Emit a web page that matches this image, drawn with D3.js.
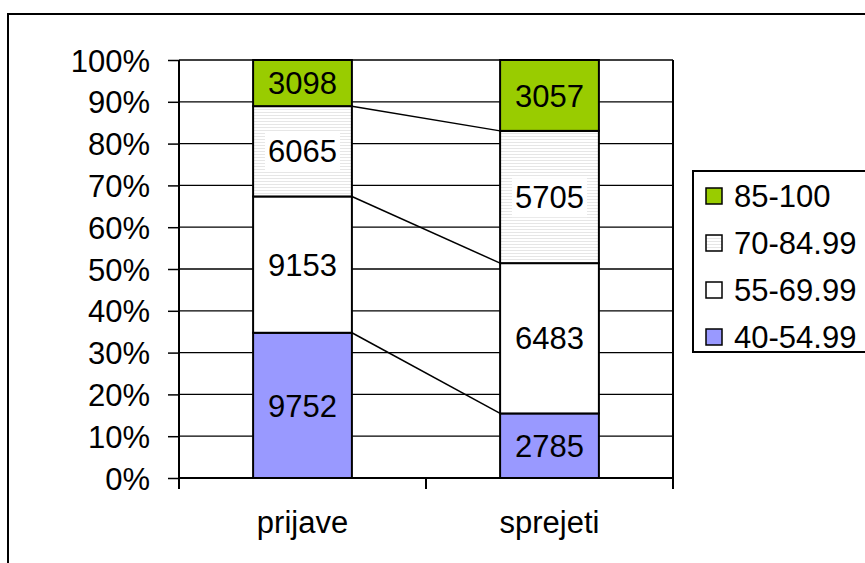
<!DOCTYPE html>
<html>
<head>
<meta charset="utf-8">
<script src="https://cdn.jsdelivr.net/npm/d3@7"></script>
<style>
  html, body { margin: 0; padding: 0; background: #fff; }
  svg { display: block; font-family: "Liberation Sans", Arial, sans-serif; }
</style>
</head>
<body>
<svg id="chart" width="865" height="563"></svg>
<script>
const categories = ["prijave", "sprejeti"];
const seriesNames = ["40-54.99", "55-69.99", "70-84.99", "85-100"];
const values_40_54 = [9752, 2785];
const values_55_69 = [9153, 6483];
const values_70_84 = [6065, 5705];
const values_85_100 = [3098, 3057];
const seriesColors = ["#9999ff", "#ffffff", "url(#pat)", "#99cc00"];
const legendColors = ["#9999ff", "#ffffff", "url(#patL)", "#99cc00"];
const yTicks = [0, 0.1, 0.2, 0.3, 0.4, 0.5, 0.6, 0.7, 0.8, 0.9, 1.0];

(function () {
const svg = d3.select("#chart");
const defs = svg.append("defs");
function makePattern(id) {
  const p = defs.append("pattern").attr("id", id).attr("patternUnits", "userSpaceOnUse")
    .attr("width", 6).attr("height", 3);
  p.append("rect").attr("width", 6).attr("height", 3).attr("fill", "#ffffff");
  p.append("rect").attr("y", 1).attr("width", 6).attr("height", 1).attr("fill", "#e6e6e6");
}
makePattern("pat");
makePattern("patL");

const FONT = 31;

// outer border
svg.append("rect").attr("x", 8).attr("y", 14).attr("width", 900).attr("height", 600)
  .attr("fill", "none").attr("stroke", "#000").attr("stroke-width", 2);

const pLeft = 179, pRight = 673, pTop = 60, pBottom = 478;
const x = d3.scaleBand().domain(categories).range([pLeft, pRight]).paddingInner(0.6).paddingOuter(0.3);
const y = d3.scaleLinear().domain([0, 1]).range([pBottom, pTop]);

const table = categories.map((c, i) => {
  const row = { cat: c };
  row[seriesNames[0]] = values_40_54[i];
  row[seriesNames[1]] = values_55_69[i];
  row[seriesNames[2]] = values_70_84[i];
  row[seriesNames[3]] = values_85_100[i];
  return row;
});
const stack = d3.stack().keys(seriesNames).offset(d3.stackOffsetExpand);
const stacked = stack(table);

// gridlines
svg.append("g").selectAll("line").data(yTicks.slice(1)).join("line")
  .attr("x1", pLeft).attr("x2", pRight)
  .attr("y1", d => y(d)).attr("y2", d => y(d))
  .attr("stroke", "#000").attr("stroke-width", 1.3);
// right plot edge
svg.append("line").attr("x1", pRight).attr("x2", pRight).attr("y1", pTop).attr("y2", pBottom)
  .attr("stroke", "#000").attr("stroke-width", 2);

// y axis
const yAxis = d3.axisLeft(y).tickValues(yTicks).tickFormat(d3.format(".0%")).tickSize(11).tickPadding(18);
const gy = svg.append("g").attr("transform", `translate(${pLeft},0)`).call(yAxis);
gy.select(".domain").attr("stroke", "#000").attr("stroke-width", 2).attr("d", `M0,${pTop}V${pBottom}`);
gy.selectAll(".tick line").attr("stroke", "#000").attr("stroke-width", 1.5);
gy.selectAll(".tick text").attr("font-size", FONT).attr("font-family", "Liberation Sans, Arial, sans-serif").attr("fill", "#000").attr("dy", "0.36em");

// x axis
const boundaries = [pLeft, pLeft + x.step(), pRight];
const gx = svg.append("g");
gx.append("line").attr("x1", pLeft).attr("x2", pRight).attr("y1", pBottom).attr("y2", pBottom)
  .attr("stroke", "#000").attr("stroke-width", 2);
gx.selectAll("line.t").data(boundaries).join("line").attr("class", "t")
  .attr("x1", d => d).attr("x2", d => d).attr("y1", pBottom).attr("y2", pBottom + 11)
  .attr("stroke", "#000").attr("stroke-width", 2);
gx.selectAll("text").data(categories).join("text")
  .attr("x", d => x(d) + x.bandwidth() / 2).attr("y", 533)
  .attr("text-anchor", "middle").attr("font-size", FONT).text(d => d);

// bars
const gb = svg.append("g");
stacked.forEach((s, si) => {
  gb.selectAll(null).data(s).join("rect")
    .attr("x", d => x(d.data.cat)).attr("width", x.bandwidth())
    .attr("y", d => y(d[1])).attr("height", d => y(d[0]) - y(d[1]))
    .attr("fill", seriesColors[si]).attr("stroke", "#000").attr("stroke-width", 2);
});

// connector lines
const c0 = categories[0], c1 = categories[1];
stacked.slice(0, 3).forEach(s => {
  svg.append("line")
    .attr("x1", x(c0) + x.bandwidth()).attr("y1", y(s[0][1]))
    .attr("x2", x(c1)).attr("y2", y(s[1][1]))
    .attr("stroke", "#000").attr("stroke-width", 1.5);
});

// labels
stacked.forEach((s, si) => {
  s.forEach(d => {
    const cx = x(d.data.cat) + x.bandwidth() / 2;
    const cy = (y(d[0]) + y(d[1])) / 2;
    const g = svg.append("g");
    const t = g.append("text").attr("x", cx).attr("y", cy).attr("dy", "0.36em")
      .attr("text-anchor", "middle").attr("font-size", FONT).text(d.data[s.key]);
    if (si === 2) {
      const bb = t.node().getBBox();
      g.insert("rect", "text").attr("x", bb.x - 3).attr("y", bb.y - 2)
        .attr("width", bb.width + 6).attr("height", bb.height + 4).attr("fill", "#fff");
    }
  });
});

// legend
svg.append("rect").attr("x", 693).attr("y", 171).attr("width", 200).attr("height", 181)
  .attr("fill", "#fff").attr("stroke", "#000").attr("stroke-width", 2);
const legendOrder = [3, 2, 1, 0];
const lg = svg.append("g");
legendOrder.forEach((si, i) => {
  const cy = 196 + 47 * i;
  lg.append("rect").attr("x", 706).attr("y", cy - 8).attr("width", 16).attr("height", 16)
    .attr("fill", legendColors[si]).attr("stroke", "#000").attr("stroke-width", 1.5);
  lg.append("text").attr("x", 734).attr("y", cy).attr("dy", "0.34em")
    .attr("font-size", FONT).text(seriesNames[si]);
});
})();
</script>
</body>
</html>
